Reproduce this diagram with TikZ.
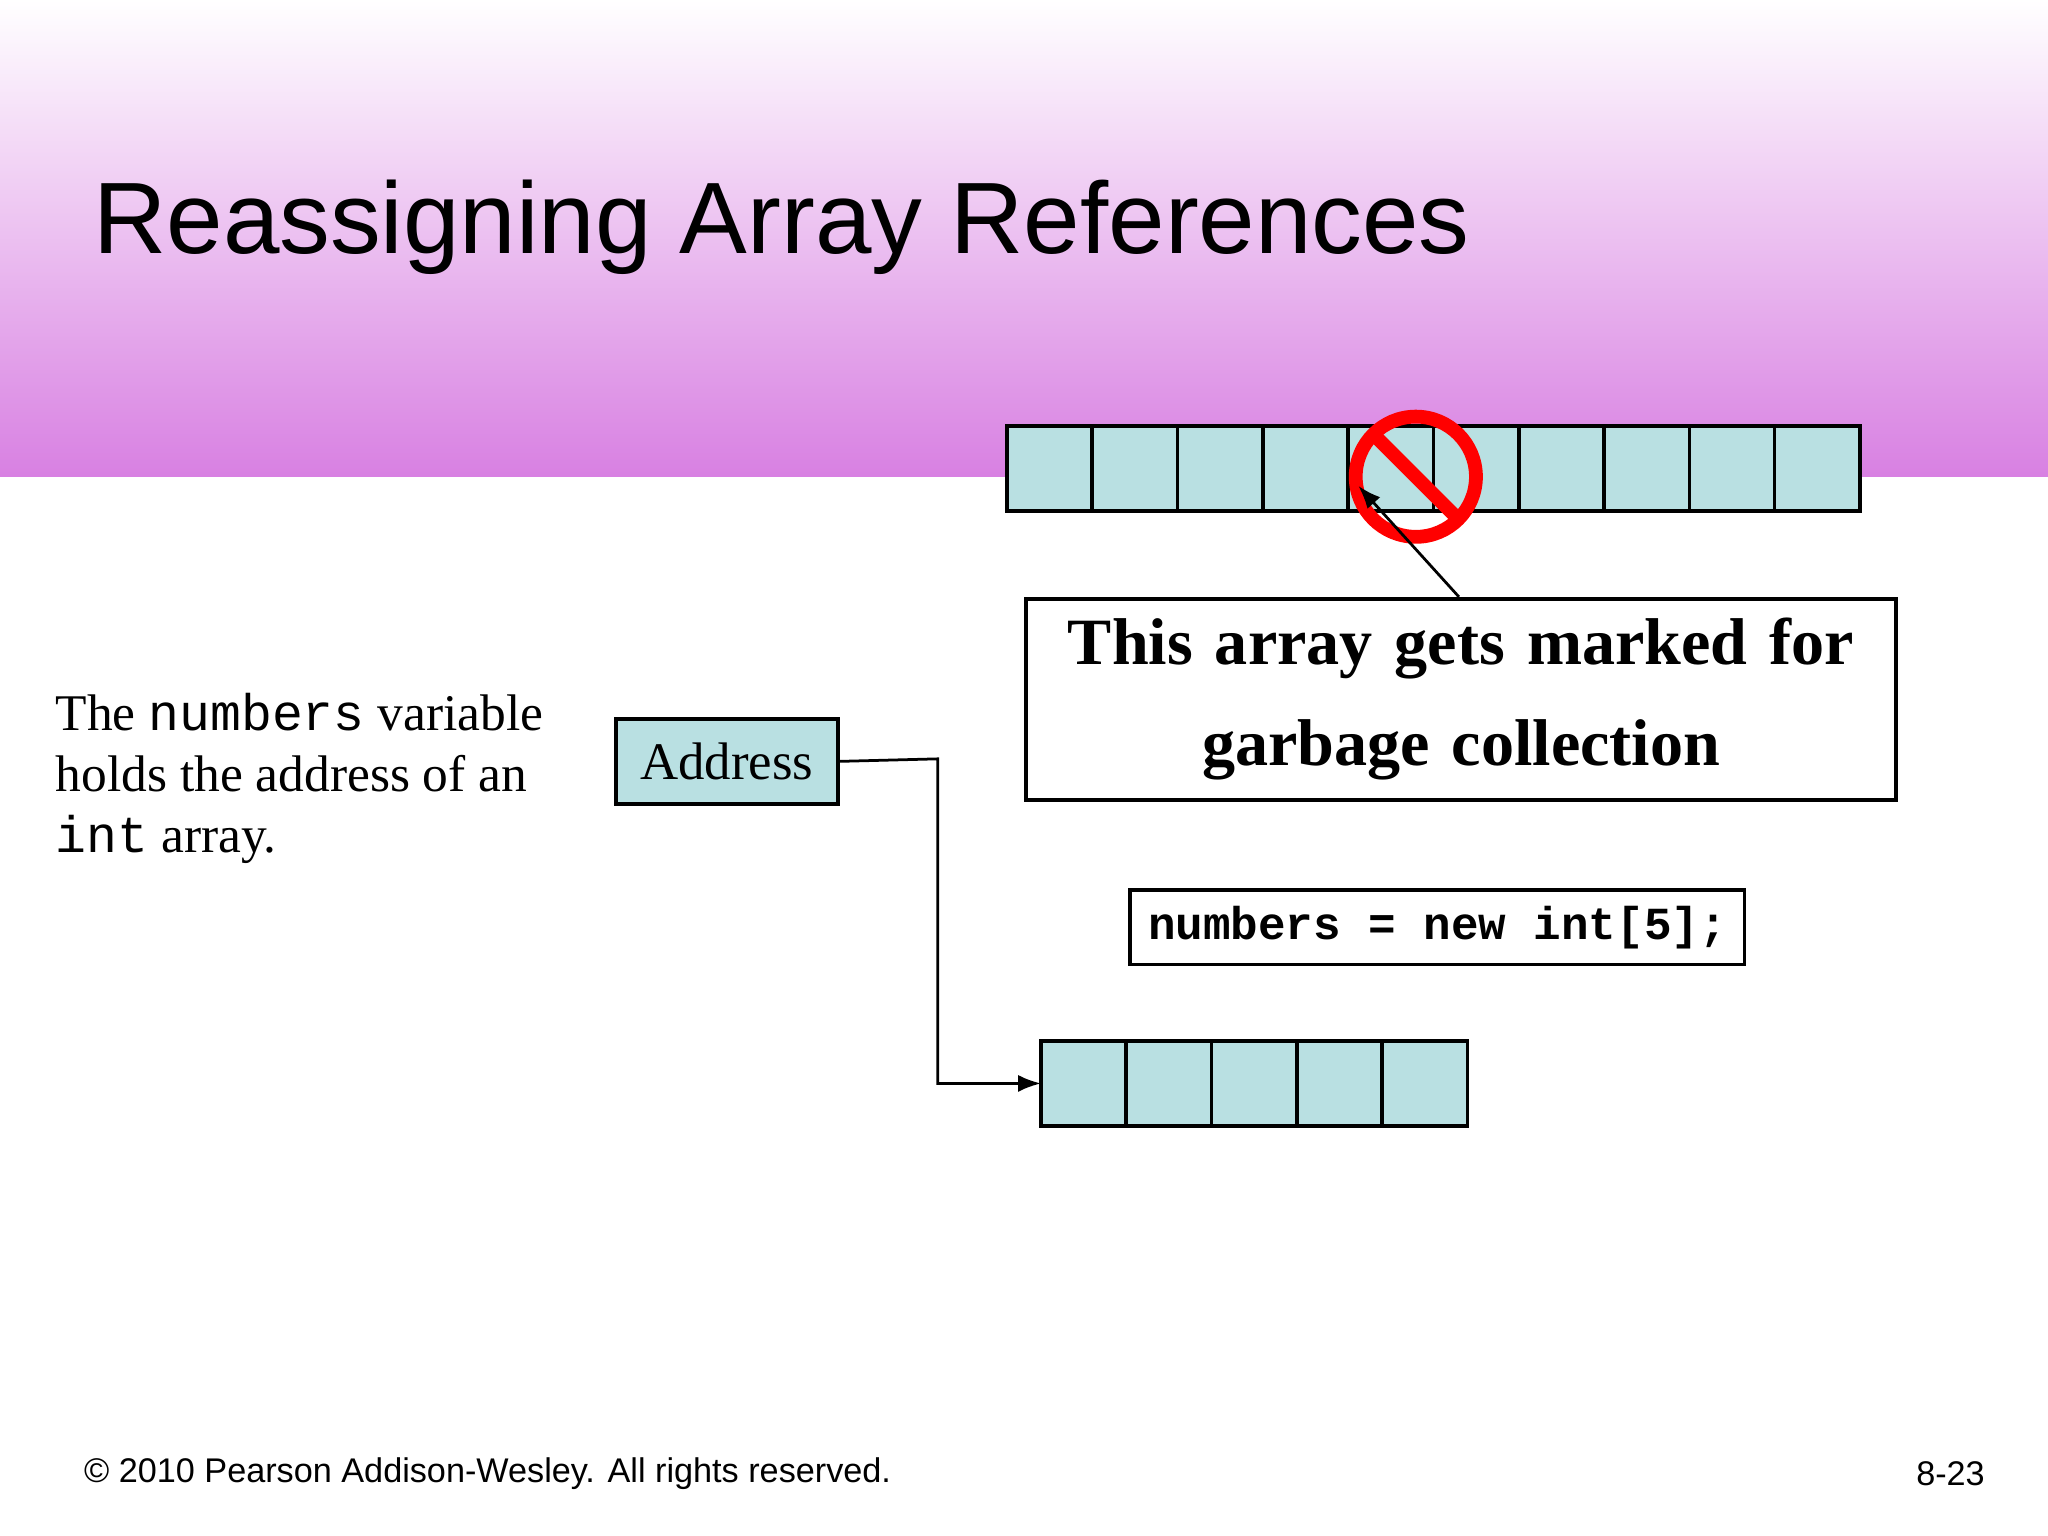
\documentclass[tikz,border=0pt]{standalone}
\usepackage{fontspec}
\setmainfont{Liberation Serif}
\setmonofont{Liberation Mono}
\newfontfamily\arial{Liberation Sans}
\usetikzlibrary{arrows.meta,calc}
\definecolor{cellc}{HTML}{B9E0E2}
\definecolor{pinkc}{HTML}{D880E2}
\begin{document}
\begin{tikzpicture}[x=0.01cm,y=-0.01cm,
  cell/.style={draw,line width=0.8pt,fill=cellc,minimum width=0.653cm,minimum height=0.65cm,inner sep=0,outer sep=0,anchor=north west},
  boxed/.style={draw,line width=0.8pt,inner sep=0,anchor=north west}]
\useasboundingbox (0,0) rectangle (1568,1176);
\shade[top color=white,bottom color=pinkc] (0,0) rectangle (1568,365);
\node[anchor=west,font=\arial\fontsize{22.1}{27}\selectfont] (title) at (59,174) {Reassigning Array References};
\foreach \i in {0,...,9}{\node[cell] (t\i) at ({771+65.3*\i},326) {};}
\foreach \i in {0,...,4}{\node[cell] (b\i) at ({797+65.3*\i},797) {};}
\node[boxed,fill=cellc,minimum width=1.7cm,minimum height=0.65cm,font=\fontsize{11.5}{14}\selectfont] (addr) at (470,549) {Address};
\node[boxed,fill=white,text width=6.66cm,minimum height=1.54cm,align=center,font=\bfseries\fontsize{14.4}{22}\selectfont] (note) at (784,457) {This array gets marked for\\garbage collection};
\node[boxed,minimum width=4.7cm,minimum height=0.57cm,font=\ttfamily\bfseries\fontsize{10}{12}\selectfont] (code) at (864,680) {numbers = new int[5];};
\node[anchor=north west,align=left,font=\fontsize{11.2}{13.3}\selectfont,inner sep=0] (desc) at (42,530) {The {\ttfamily numbers} variable\\holds the address of an\\{\ttfamily int} array.};
\draw[line width=0.6pt,-{Latex[length=5pt]}] (addr.east) -- (718,581) |- (b0.west);
\coordinate (nc) at (1084,365);
\draw[red,line width=3pt] (nc) circle (0.46cm);
\draw[red,line width=3pt] ($(nc)+(-135:46)$) -- ($(nc)+(45:46)$);
\draw[line width=0.6pt,-{Latex[length=5pt]}] (1117,457) -- (1040,372);
\node[anchor=west,font=\arial\fontsize{7.45}{10}\selectfont] (foot) at (52,1128) {© 2010 Pearson Addison-Wesley. All rights reserved.};
\node[anchor=east,font=\arial\fontsize{7.45}{10}\selectfont] (pg) at (1532,1128) {8-23};
\end{tikzpicture}
\end{document}
